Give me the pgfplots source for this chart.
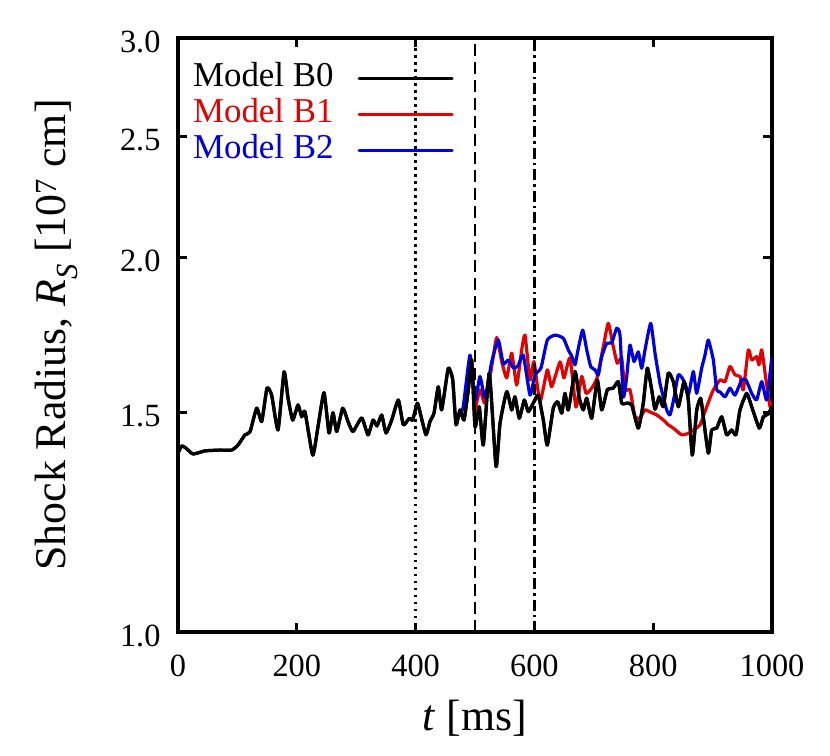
\documentclass[border=0pt]{standalone}
\usepackage{fontspec}
\setmainfont{Liberation Serif}
\usepackage{pgfplots}
\usepackage{pgfplotstable}
\pgfplotsset{compat=1.18}
\definecolor{gred}{RGB}{226,0,0}
\definecolor{gblue}{RGB}{0,0,220}

\pgfplotstableread{
t R
0 1.392
6.2 1.411
13.5 1.405
25.3 1.390
45.5 1.398
70.7 1.400
90.4 1.400
101 1.413
112.8 1.440
121.2 1.448
132.5 1.513
140.9 1.476
149.8 1.570
157.7 1.550
168.4 1.453
178.5 1.618
185.2 1.542
193.1 1.480
202 1.522
208.3 1.489
213.8 1.503
226.8 1.387
235.7 1.462
245.8 1.557
254.2 1.445
260.9 1.500
267.2 1.449
277.3 1.513
286.2 1.476
294.6 1.449
309.3 1.486
319.9 1.440
328.3 1.480
335 1.464
342.9 1.494
350.2 1.445
359.8 1.480
370.9 1.536
379.3 1.467
389.4 1.485
395.1 1.480
402.9 1.527
408.6 1.494
417.5 1.440
424.2 1.476
431 1.499
438.2 1.574
443.9 1.508
455 1.629
462.5 1.594
468 1.467
474.7 1.508
481.5 1.480
488.7 1.565
494.4 1.654
500 1.462
507.2 1.517
514 1.413
524.1 1.614
535.4 1.358
542.1 1.471
553.4 1.560
561.8 1.508
567.3 1.545
574.6 1.485
583 1.536
589.7 1.503
599.3 1.531
606.6 1.550
615 1.480
621.7 1.413
631.8 1.513
639.2 1.531
646 1.499
651.5 1.555
657.1 1.508
668.4 1.619
675.6 1.541
682.3 1.508
688.1 1.541
696.5 1.485
705.9 1.594
713.3 1.508
722.7 1.565
732.8 1.570
741.3 1.589
747 1.527
755.4 1.527
763.8 1.522
774.9 1.458
783.3 1.527
790.1 1.629
797.5 1.565
803 1.510
810.3 1.545
817 1.517
825.4 1.614
833.8 1.589
842.3 1.517
851.9 1.589
859.1 1.536
865.8 1.387
873.3 1.508
879.9 1.541
884.3 1.489
892.8 1.392
898.4 1.453
906.9 1.458
915.3 1.489
923.7 1.440
932.1 1.453
939.4 1.440
946.1 1.508
957.4 1.555
965.8 1.517
978.6 1.458
985.4 1.489
993.8 1.497
1000 1.517
}\modelB

\pgfplotstableread{
t R
500 1.508
508.4 1.565
516.8 1.527
528.1 1.634
536.5 1.724
545 1.649
553.4 1.600
561.8 1.675
570.2 1.579
578.6 1.685
584.2 1.732
592.6 1.594
599.3 1.649
609.4 1.531
621.7 1.624
629.1 1.574
643.1 1.648
649.8 1.600
659.9 1.660
670 1.516
679.6 1.604
686.9 1.555
696.5 1.570
705.4 1.600
716 1.695
724.4 1.770
732.8 1.695
739.6 1.644
747 1.659
752.5 1.565
760.9 1.565
769.4 1.489
777.8 1.486
786.2 1.508
794.6 1.502
805.9 1.494
817 1.480
825.4 1.467
833.8 1.458
848 1.440
859.1 1.444
867.5 1.453
878.8 1.467
890.1 1.517
901.2 1.565
912.5 1.594
920.9 1.589
929.3 1.634
937.7 1.609
946.1 1.604
951.7 1.565
960.1 1.685
965.8 1.654
974.2 1.664
978.1 1.639
982.7 1.685
989.9 1.594
996.7 1.517
1000 1.522
}\modelBone

\pgfplotstableread{
t R
471.4 1.494
479.8 1.513
491.6 1.669
500 1.536
508.4 1.604
516.8 1.542
528.1 1.648
539.2 1.716
547.6 1.642
556.1 1.654
564.5 1.630
572.4 1.636
581.3 1.669
592.6 1.550
601 1.609
611.1 1.630
621.7 1.716
634.7 1.732
648.6 1.722
657.1 1.685
662.8 1.666
668.4 1.639
673.4 1.685
681.3 1.748
688.1 1.685
694.8 1.634
702 1.624
707.6 1.609
713.3 1.664
721.7 1.706
730.1 1.707
738.5 1.754
744.1 1.732
749.7 1.545
755.4 1.604
760.9 1.700
767.7 1.649
774.9 1.679
780.6 1.629
786.2 1.685
795.8 1.770
803 1.675
811.4 1.584
817 1.545
822.7 1.508
828.3 1.494
835 1.542
842.3 1.609
850.7 1.594
859.1 1.550
867.5 1.619
873.2 1.555
881.6 1.629
887.2 1.669
892.8 1.716
901.2 1.654
906.9 1.565
912.5 1.559
920.9 1.545
929.3 1.570
937.7 1.550
949 1.594
956.2 1.594
965.8 1.555
974.2 1.536
982.7 1.589
991.1 1.536
999.5 1.659
}\modelBtwo

\begin{document}
\begin{tikzpicture}
\begin{axis}[
  scale only axis, width=594bp, height=594bp,
  xmin=0, xmax=1000, ymode=log, ymin=1, ymax=3,
  xtick={0,200,400,600,800,1000},
  ytick={1,1.5,2,2.5,3}, yticklabels={1.0,1.5,2.0,2.5,3.0},
  log ticks with fixed point,
  /pgf/number format/1000 sep={},
  xminorticks=false, yminorticks=false,
  tick align=inside, major tick length=9bp,
  tick style={line width=3bp, black},
  axis line style={line width=3.6bp},
  /pgf/number format/assume math mode=true,
  tick label style={font=\fontsize{32.5}{38}\selectfont},
  xticklabel style={yshift=-19bp},
  yticklabel style={xshift=-14bp, yshift=-3.5bp},
  xlabel={\textit{t} [ms]},
  ylabel={Shock Radius, \textit{R}\textsubscript{\textit{S}} [10\textsuperscript{7} cm]},
  label style={font=\fontsize{44}{50}\selectfont},
  xlabel style={at={(axis description cs:0.5,-0.145)}, anchor=center},
  ylabel style={at={(axis description cs:-0.204,0.5)}, anchor=center},
  legend style={at={(axis description cs:0.02,0.965)}, anchor=north west,
    draw=none, fill=none, font=\fontsize{35}{40}\selectfont,
    row sep=1bp, column sep=24bp,
    nodes={inner sep=0bp, text height=26bp, text depth=9bp}},
  legend cell align=right, legend plot pos=right,
  legend image code/.code={\draw[#1] (0bp,0bp) -- (93bp,0bp);},
  every axis plot/.append style={line width=3.2bp, line join=round, line cap=round},
]
\addplot[black, smooth, tension=0.3] table[x=t,y=R]{\modelB};
\addlegendentry{\textcolor{black}{Model B0}}
\addplot[gred, smooth, tension=0.3] table[x=t,y=R]{\modelBone};
\addlegendentry{\textcolor{gred}{Model B1}}
\addplot[gblue, smooth, tension=0.3] table[x=t,y=R]{\modelBtwo};
\addlegendentry{\textcolor{gblue}{Model B2}}
\addplot[black, smooth, tension=0.3, forget plot] table[x=t,y=R]{\modelB};
\addplot[black, forget plot, line cap=butt, line width=2.6bp, dash pattern=on 2.5bp off 4.5bp] coordinates {(400,1) (400,3)};
\addplot[black, forget plot, line cap=butt, line width=2.8bp, dash pattern=on 12bp off 6bp] coordinates {(500,1) (500,3)};
\addplot[black, forget plot, line cap=butt, line width=2.8bp, dash pattern=on 11bp off 4bp on 2.5bp off 4bp] coordinates {(600,1) (600,3)};
\coordinate (SW) at (rel axis cs:0,0);
\coordinate (NE) at (rel axis cs:1,1);
\end{axis}
\pgfresetboundingbox
\path[use as bounding box] ([shift={(-178bp,-124bp)}]SW) rectangle ([shift={(58bp,38bp)}]NE);
\end{tikzpicture}
\end{document}
